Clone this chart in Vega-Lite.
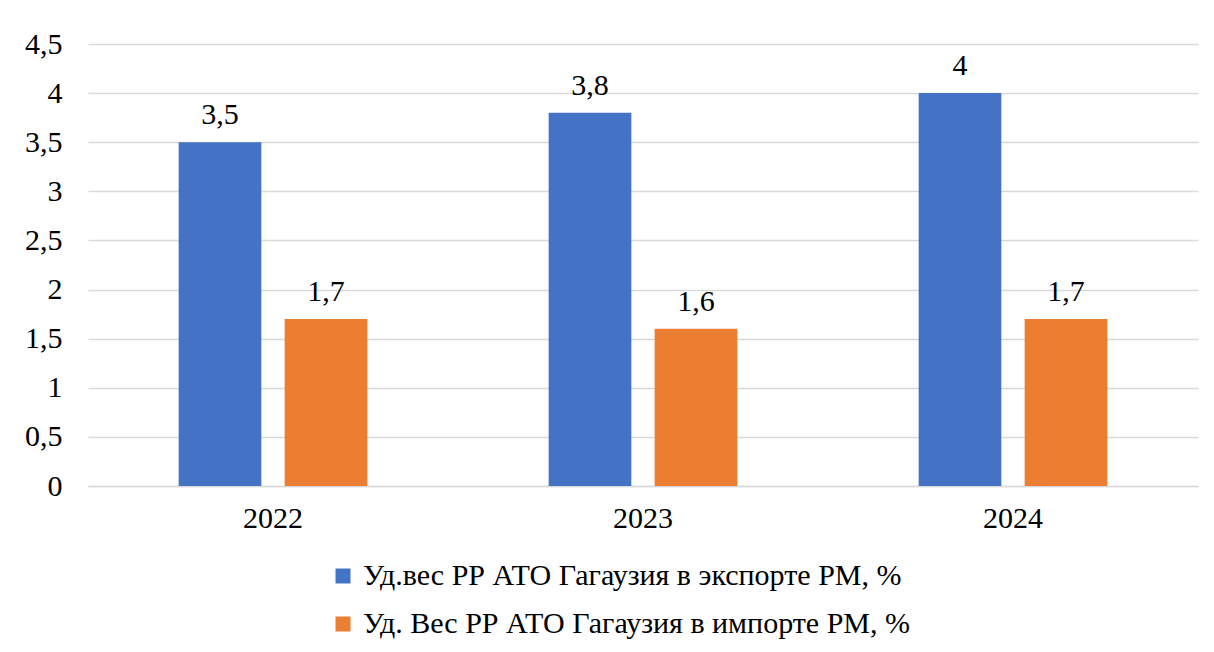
{
  "$schema": "https://vega.github.io/schema/vega-lite/v6.json",
  "autosize": {"type": "none"},
  "width": 1110,
  "height": 442,
  "padding": {"left": 88, "top": 44, "right": 16, "bottom": 166},
  "background": "white",
  "data": {
    "values": [
      {"year": "2022", "series": "Уд.вес РР АТО Гагаузия в экспорте РМ, %", "value": 3.5},
      {"year": "2022", "series": "Уд. Вес РР АТО Гагаузия  в импорте РМ, %", "value": 1.7},
      {"year": "2023", "series": "Уд.вес РР АТО Гагаузия в экспорте РМ, %", "value": 3.8},
      {"year": "2023", "series": "Уд. Вес РР АТО Гагаузия  в импорте РМ, %", "value": 1.6},
      {"year": "2024", "series": "Уд.вес РР АТО Гагаузия в экспорте РМ, %", "value": 4},
      {"year": "2024", "series": "Уд. Вес РР АТО Гагаузия  в импорте РМ, %", "value": 1.7}
    ]
  },
  "encoding": {
    "x": {
      "field": "year", "type": "nominal", "title": null,
      "scale": {"paddingInner": 0.49, "paddingOuter": 0.245},
      "axis": {"labelAngle": 0, "ticks": false, "domainColor": "#D9D9D9", "domainWidth": 1.5, "labelPadding": 17, "labelFontSize": 30, "labelBaseline": "top", "labelFont": "Times New Roman, Liberation Serif, serif"}
    },
    "xOffset": {
      "field": "series", "type": "nominal",
      "sort": ["Уд.вес РР АТО Гагаузия в экспорте РМ, %", "Уд. Вес РР АТО Гагаузия  в импорте РМ, %"],
      "scale": {"paddingInner": 0.22, "paddingOuter": 0}
    },
    "y": {
      "field": "value", "type": "quantitative", "title": null,
      "scale": {"domain": [0, 4.5], "nice": false},
      "axis": {"values": [0, 0.5, 1, 1.5, 2, 2.5, 3, 3.5, 4, 4.5], "format": "~g", "ticks": false, "domain": false, "labelPadding": 26, "labelFontSize": 30, "labelFont": "Times New Roman, Liberation Serif, serif", "gridColor": "#D9D9D9", "gridWidth": 1.5}
    }
  },
  "layer": [
    {
      "mark": {"type": "bar"},
      "encoding": {
        "color": {
          "field": "series", "type": "nominal",
          "sort": ["Уд.вес РР АТО Гагаузия в экспорте РМ, %", "Уд. Вес РР АТО Гагаузия  в импорте РМ, %"],
          "scale": {"range": ["#4472C4", "#ED7D31"]},
          "legend": {"title": null, "orient": "none", "legendX": 240, "legendY": 517, "direction": "vertical", "symbolType": "square", "symbolSize": 225, "symbolStrokeWidth": 0, "labelFontSize": 30, "labelFont": "Times New Roman, Liberation Serif, serif", "labelLimit": 0, "rowPadding": 18, "labelOffset": 5}
        }
      }
    },
    {
      "mark": {"type": "text", "baseline": "alphabetic", "dy": -18, "fontSize": 30, "color": "black", "font": "Times New Roman, Liberation Serif, serif"},
      "encoding": {
        "text": {"field": "value", "type": "quantitative", "format": "~g"}
      }
    }
  ],
  "config": {
    "locale": {"number": {"decimal": ",", "thousands": " ", "grouping": [3], "currency": ["", ""]}},
    "font": "Times New Roman, Liberation Serif, serif",
    "view": {"stroke": null},
    "axis": {"labelColor": "black"},
    "legend": {"labelColor": "black"}
  }
}
